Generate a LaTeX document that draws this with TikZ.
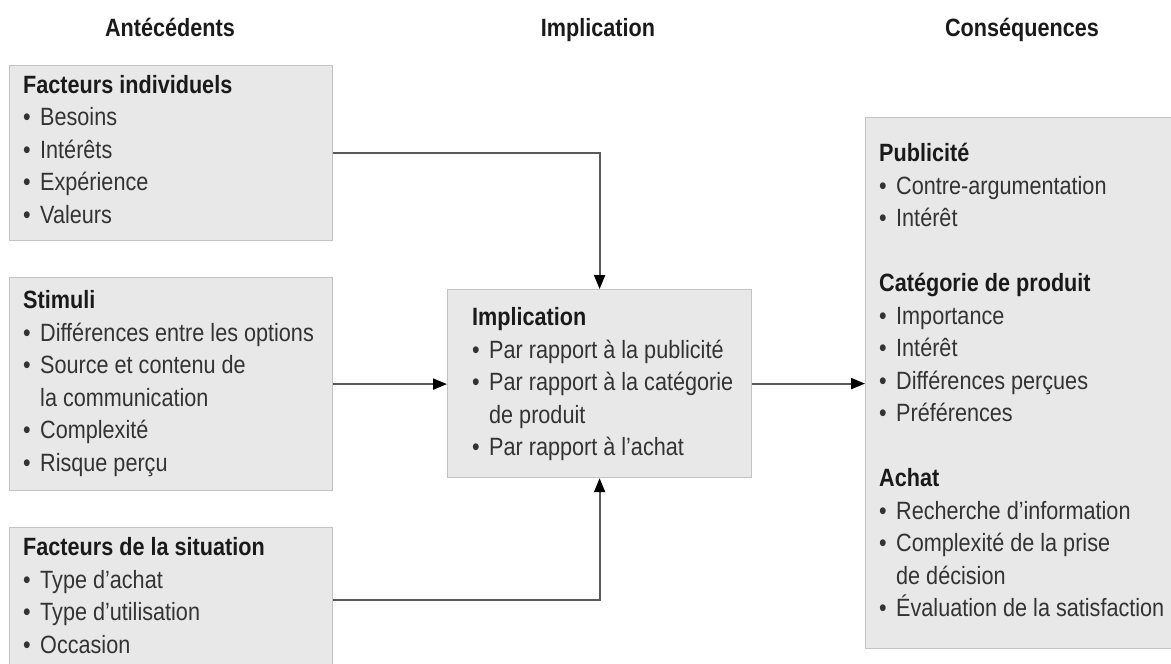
\documentclass[tikz,border=0pt]{standalone}
\usepackage{fontspec}
\setmainfont{Liberation Sans}[FakeStretch=0.865]
\usetikzlibrary{arrows.meta}

\definecolor{boxfill}{HTML}{E7E8E7}
\definecolor{boxline}{HTML}{C2C3C2}
\definecolor{connline}{HTML}{5A5A5A}
\definecolor{headtxt}{HTML}{1A1A1A}
\definecolor{itemtxt}{HTML}{333333}

% bullet with fixed hang, and indent for wrapped item lines
\newcommand{\bitem}{\makebox[17pt][l]{\textbullet}}
\newcommand{\cont}{\hspace*{17pt}}
\newcommand{\hd}[1]{\rule{0pt}{19pt}{\bfseries\color{headtxt}#1}}

\tikzset{
  panel/.style={draw=boxline, line width=1.2pt, fill=boxfill, anchor=north west,
                inner sep=0pt},
  panetext/.style={anchor=north west, inner sep=0pt, align=left, text=itemtxt,
                   font={\fontsize{25}{32.5}\selectfont}},
  coltitle/.style={anchor=base, inner sep=0pt, text=headtxt,
                   font={\fontsize{25}{30}\selectfont\bfseries}},
  conn/.style={draw=connline, line width=2pt,
               -{Triangle[length=14pt,width=11pt,fill=black,color=black]}},
}

\begin{document}
\begin{tikzpicture}[x=1pt,y=-1pt]
\useasboundingbox (0,0) rectangle (1171,664);
\clip (0,0) rectangle (1171,664);

% column titles
\node[coltitle] (tant) at (170,36.5) {Antécédents};
\node[coltitle] (timp) at (598,36.5) {Implication};
\node[coltitle] (tcon) at (1022,36.5) {Conséquences};

% antecedent boxes
\node[panel, minimum width=323pt, minimum height=175pt] (b1) at (9,65) {};
\node[panetext] (b1t) at (23,74) {\hd{Facteurs individuels}\\
  \bitem Besoins\\
  \bitem Intérêts\\
  \bitem Expérience\\
  \bitem Valeurs};

\node[panel, minimum width=323pt, minimum height=213pt] (b2) at (9,277) {};
\node[panetext] (b2t) at (23,289.5) {\hd{Stimuli}\\
  \bitem Différences entre les options\\
  \bitem Source et contenu de\\
  \cont la communication\\
  \bitem Complexité\\
  \bitem Risque perçu};

\node[panel, minimum width=323pt, minimum height=144pt] (b3) at (9,527) {};
\node[panetext] (b3t) at (23,536.5) {\hd{Facteurs de la situation}\\
  \bitem Type d’achat\\
  \bitem Type d’utilisation\\
  \bitem Occasion};

% central box
\node[panel, minimum width=304pt, minimum height=188pt] (imp) at (447,289) {};
\node[panetext] (impt) at (472,306.5) {\hd{Implication}\\
  \bitem Par rapport à la publicité\\
  \bitem Par rapport à la catégorie\\
  \cont de produit\\
  \bitem Par rapport à l’achat};

% consequences box
\node[panel, minimum width=320pt, minimum height=531pt] (cons) at (865,117) {};
\node[panetext] (const) at (879,142.5) {\hd{Publicité}\\
  \bitem Contre-argumentation\\
  \bitem Intérêt\\[32.5pt]
  \hd{Catégorie de produit}\\
  \bitem Importance\\
  \bitem Intérêt\\
  \bitem Différences perçues\\
  \bitem Préférences\\[32.5pt]
  \hd{Achat}\\
  \bitem Recherche d’information\\
  \bitem Complexité de la prise\\
  \cont de décision\\
  \bitem Évaluation de la satisfaction};

% connectors
\draw[conn] (b1.east) -| (imp.north);
\draw[conn] (b2.east) -- (b2.east -| imp.west);
\draw[conn] (b3.east) -| (imp.south);
\draw[conn] (imp.east) -- (imp.east -| cons.west);
\end{tikzpicture}
\end{document}
